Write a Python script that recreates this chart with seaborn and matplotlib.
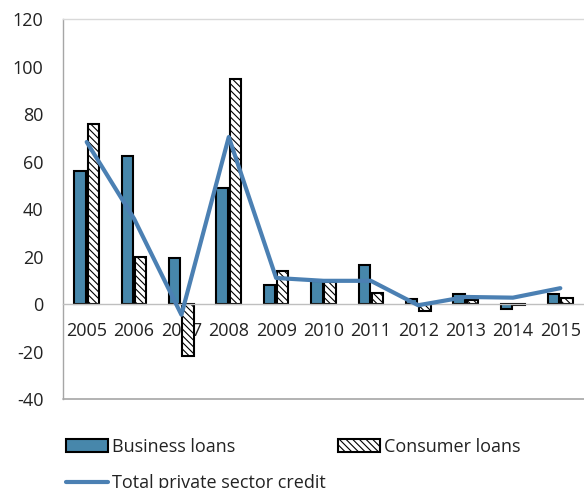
import numpy as np
import pandas as pd
import matplotlib
matplotlib.use("Agg")
import matplotlib.pyplot as plt
from matplotlib.ticker import FixedLocator, NullFormatter
import seaborn as sns

years = ["2005", "2006", "2007", "2008", "2009", "2010",
         "2011", "2012", "2013", "2014", "2015"]
business_loans = [56, 62.5, 19.3, 48.8, 8, 9.8, 16.5, 2, 4.3, -2.2, 4.4]
consumer_loans = [76, 20, -21.8, 95, 14.1, 9.2, 4.5, -2.8, 1.7, -0.5, 2.5]
total_credit = [68.3, 36, -4.5, 70.4, 11, 9.8, 9.8, -0.5, 3, 2.7, 6.7]
yticks = [-40, -20, 0, 20, 40, 60, 80, 100, 120]

BAR_BLUE = "#4787ab"
LINE_BLUE = "#4b80b3"
GRID_GREY = "#a6a6a6"
TEXT = "#222222"

sns.set_style("white")
plt.rcParams["font.family"] = ["Open Sans", "DejaVu Sans"]
plt.rcParams["hatch.linewidth"] = 0.8
plt.rcParams["hatch.color"] = "black"

df = pd.DataFrame({
    "year": years * 2,
    "value": business_loans + consumer_loans,
    "series": ["Business loans"] * len(years) + ["Consumer loans"] * len(years),
})

fig = plt.figure(figsize=(5.84, 4.88), dpi=100)
ax = fig.add_axes([63 / 584, 1 - 399 / 488, 1 - 63 / 584, (399 - 19.3) / 488])

sns.barplot(data=df, x="year", y="value", hue="series", order=years,
            hue_order=["Business loans", "Consumer loans"],
            palette=[BAR_BLUE, "white"], width=0.56, gap=0.14,
            edgecolor="black", linewidth=1.5, legend=False, ax=ax,
            errorbar=None, saturation=1)

# hatch the consumer loan bars
n = len(years)
bars = [p for p in ax.patches]
for p in bars[n:2 * n]:
    p.set_hatch("\\\\\\\\\\")

sns.lineplot(x=np.arange(n), y=total_credit, color=LINE_BLUE, linewidth=3,
             ax=ax, zorder=5)

ax.set_xlim(-0.5, n - 0.5)
ax.set_ylim(-40, 120)
ax.set_yticks(yticks)
ax.set_yticklabels([str(v) for v in yticks])
ax.set_xlabel("")
ax.set_ylabel("")

# spines: category axis sits on zero, frame line at the bottom
ax.spines["bottom"].set_position(("data", 0))
ax.spines["bottom"].set_color("#bfbfbf")
ax.spines["bottom"].set_linewidth(1.0)
ax.spines["left"].set_color(GRID_GREY)
ax.spines["left"].set_linewidth(1.0)
ax.spines["top"].set_color("#d9d9d9")
ax.spines["top"].set_linewidth(1.0)
ax.spines["right"].set_visible(False)
ax.axhline(-40, color=GRID_GREY, linewidth=1.2, clip_on=False, zorder=1)

ax.tick_params(axis="y", direction="in", length=5, color=GRID_GREY,
               labelsize=13, labelcolor=TEXT, pad=14)
ax.tick_params(axis="x", which="major", length=0, labelsize=13,
               labelcolor=TEXT, pad=13)
ax.xaxis.set_minor_locator(FixedLocator(np.arange(0.5, n - 0.5, 1.0)))
ax.xaxis.set_minor_formatter(NullFormatter())
ax.tick_params(axis="x", which="minor", direction="in", length=3,
               color="#bfbfbf")

# legend
h_bus = bars[0]
h_con = bars[n]
h_line = ax.lines[0]
leg = fig.legend([h_bus, h_line, h_con],
                 ["Business loans", "Total private sector credit", "Consumer loans"],
                 ncol=2, loc="upper left",
                 bbox_to_anchor=(66 / 584, 1 - 438 / 488),
                 frameon=False, fontsize=13, handlelength=2.3,
                 handleheight=0.75, handletextpad=0.25, columnspacing=0.7,
                 labelspacing=1.0, borderpad=0, borderaxespad=0)
for t in leg.get_texts():
    t.set_color(TEXT)

fig.savefig("out.png", dpi=100)
